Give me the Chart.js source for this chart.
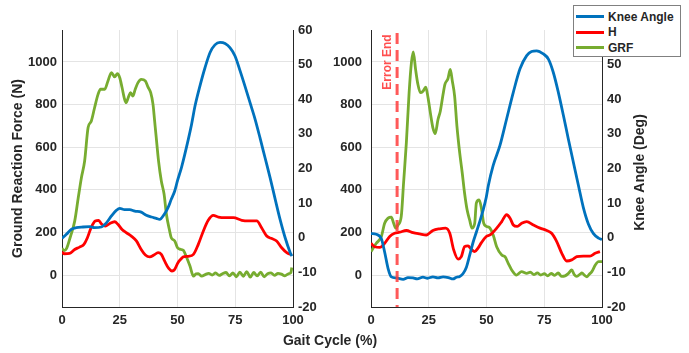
<!DOCTYPE html>
<html>
<head>
<meta charset="utf-8">
<script src="https://cdn.jsdelivr.net/npm/chart.js@4.4.1/dist/chart.umd.min.js"></script>
<style>
  body { margin: 0; background: #fff; font-family: Arial, "Liberation Sans", sans-serif; }
  #wrap { position: relative; width: 689px; height: 353px; overflow: hidden; }
  canvas { position: absolute; top: 0; }
  #leftChart { left: 0; }
  #rightChart { left: 320px; }
  #xTitle { position: absolute; left: 230px; width: 200px; top: 332px; line-height: 16px;
            text-align: center; font-weight: bold; font-size: 14px; color: #262626; }
  #legend { position: absolute; left: 573px; top: 5px; width: 108px; height: 52px; box-sizing: border-box;
            border: 1px solid #808080; background: #fff; padding-top: 3px; z-index: 5; }
  .item { height: 15.5px; display: flex; align-items: center; font-size: 12px; font-weight: bold;
          color: #262626; white-space: nowrap; }
  .swatch { display: inline-block; width: 28px; height: 3px; margin: 0 4px 0 2px; }
</style>
</head>
<body>
<div id="wrap">
  <canvas id="leftChart" width="345" height="353"></canvas>
  <canvas id="rightChart" width="369" height="353"></canvas>
  <div id="xTitle">Gait Cycle (%)</div>
  <div id="legend"></div>
</div>
<script>
// series
const seriesNames = ["Knee Angle", "H", "GRF"];
const seriesColors = ["#0072BD", "#FF0000", "#77AC30"];

// ticks
const xTicks = [0, 25, 50, 75, 100];
const grfTicks = [0, 200, 400, 600, 800, 1000];
const angleTicks = [-20, -10, 0, 10, 20, 30, 40, 50, 60];
const errorEnd = 11.3;

// left panel
const leftKneeX = [0, 1.9, 4, 6.2, 9.1, 12, 14.1, 17, 19.2, 21.4, 23.5, 25, 27.1, 29.3, 31.5, 34.3, 36.5, 38.7, 40.8, 42.3, 44.2, 45.9, 47.3, 48.8, 50, 51.8, 54.7, 56.1, 57.6, 59.7, 61.9, 64.1, 66.2, 68.4, 70.6, 72.7, 74.9, 77.1, 79.2, 81.4, 83.6, 85.7, 87.9, 90.1, 92.3, 94.4, 96.6, 98.8, 99.5];
const leftKnee = [-0.2, 1.0, 2.4, 2.9, 3.1, 3.2, 2.9, 3.1, 4.3, 6.3, 7.9, 8.5, 8.1, 8.1, 7.7, 7.4, 6.5, 6.0, 5.6, 5.3, 6.7, 8.7, 11.1, 13.5, 16.5, 20.5, 28.5, 32.8, 38.1, 43.8, 49.1, 53.5, 55.7, 56.4, 56.1, 54.9, 52.5, 48.2, 43.8, 39.0, 34.2, 28.9, 23.1, 17.3, 11.1, 5.3, 0, -4.3, -5.3];

const leftHX = [0, 1, 3.3, 5.5, 7.6, 9.5, 11, 12.7, 14.4, 15.9, 17, 18.8, 20.6, 22.8, 24.2, 26, 27.8, 30, 32.2, 34.3, 36.1, 38, 39.8, 41.6, 43, 44.4, 46.2, 47.6, 48.8, 50.2, 51.5, 52.5, 54.7, 56.9, 59, 61.2, 63.3, 65.5, 67.7, 70.6, 74.2, 77.8, 80.7, 84.3, 86.4, 88.6, 90.8, 92.9, 95.1, 97.3, 99.4];
const leftH = [108, 100, 102, 120, 131, 144, 175, 225, 254, 257, 241, 230, 241, 250, 238, 214, 199, 183, 160, 120, 94, 85, 94, 105, 97, 66, 31, 19, 27, 58, 75, 85, 88, 97, 144, 207, 257, 280, 272, 269, 269, 257, 254, 254, 222, 183, 171, 160, 128, 105, 94];

const leftGrfX = [0, 1, 2, 3.5, 5.5, 7, 8.4, 9.8, 11.3, 12.7, 14.1, 15.6, 16.7, 18.5, 19.9, 21.4, 22.8, 24, 25, 26, 27.1, 27.8, 28.9, 29.7, 30.7, 31.7, 32.9, 34.3, 36.1, 37.2, 38.4, 39.4, 40.1, 40.8, 41.8, 43, 44.2, 45.2, 46.6, 47.3, 48.8, 50, 51.5, 52.5, 54, 55.4, 56.9, 58, 59, 60.5, 62, 63.5, 65, 66.5, 68, 69.5, 71, 72.5, 74, 75.5, 77, 78.5, 80, 81.5, 83, 84.5, 86, 87.5, 89, 90.5, 92, 93.5, 95, 96.5, 98, 99, 99.5];
const leftGrf = [125, 115, 125, 175, 253, 360, 457, 535, 692, 723, 785, 848, 872, 872, 911, 950, 930, 945, 926, 880, 825, 809, 840, 856, 840, 872, 903, 918, 911, 883, 856, 801, 723, 645, 535, 441, 379, 285, 207, 175, 160, 128, 120, 116, 81, 42, -5, 5, 6, -5, 2, 8, 0, 10, -2, 6, 12, -4, 10, -8, 14, -6, 16, -10, 12, -4, 14, -8, 6, 10, -2, 8, 4, -4, 6, 10, 35];

// right panel
const rightKneeX = [0, 2.3, 4.5, 5.9, 7.4, 8.8, 11, 13.9, 16, 18.2, 20, 22.5, 24.5, 26.8, 29, 31.2, 33.5, 35.5, 37, 38.4, 39.8, 41.3, 42.7, 44.2, 45.6, 47, 48.5, 49.9, 50.8, 52.9, 55.8, 58.7, 61.6, 64.5, 67.4, 69.5, 71.7, 74.6, 76.8, 78.9, 81.1, 83.3, 85.4, 87.6, 89.8, 91.9, 94.1, 96.3, 98.5, 100];
const rightKnee = [1.2, 1.0, -0.3, -4.1, -8.9, -11.3, -11.6, -12.0, -11.5, -11.6, -11.9, -11.4, -11.7, -11.3, -11.6, -11.3, -11.5, -11.9, -11.4, -11.2, -10.4, -8.5, -5.1, -1.3, 1.6, 4.5, 7.9, 11.7, 15.1, 20.9, 26.6, 34.3, 42, 48.8, 52.6, 53.8, 54.0, 53.1, 51.6, 47.8, 42, 35.3, 28.6, 21.8, 15.1, 8.8, 4.0, 1.2, -0.1, -0.5];

const rightHX = [0, 1.6, 3.8, 5.9, 8.1, 10.2, 12.4, 15.3, 18.2, 21.1, 24, 26.8, 29.7, 32.3, 34.1, 35.8, 37.7, 39.1, 40.5, 42, 43.4, 44.9, 46.3, 47.8, 49.9, 51.5, 54.4, 56.6, 58.7, 60.2, 61.6, 63.3, 65.2, 67.4, 70.3, 73.2, 76.1, 78.2, 80.4, 82.6, 84.7, 86.9, 89.1, 91.9, 94.8, 97, 99.1];
const rightH = [149, 133, 130, 149, 181, 196, 201, 209, 199, 193, 188, 209, 217, 220, 196, 118, 75, 86, 133, 137, 121, 110, 126, 152, 181, 188, 220, 251, 283, 267, 235, 228, 243, 251, 235, 220, 209, 196, 157, 102, 66, 71, 86, 89, 89, 102, 110];

const rightGrfX = [0, 0.9, 2.3, 4.5, 5.9, 7.4, 8.8, 9.8, 10.7, 11.7, 13.1, 14.1, 15.3, 16.5, 17.5, 18.3, 19.3, 20.3, 21.4, 22.5, 23.7, 24.7, 25.7, 26.8, 27.8, 29, 30, 31.2, 32, 33.3, 34.3, 35.2, 36.2, 37.2, 38.4, 39.5, 40.5, 41.6, 42.7, 43.7, 44.9, 45.6, 46.8, 47.8, 48.8, 50, 51.5, 52.9, 54.4, 56.6, 58, 59.4, 60.9, 63, 65.2, 67.4, 69, 70.5, 72, 73.5, 75, 76.5, 78, 79.5, 81, 82.5, 84, 85.5, 86.9, 88, 89.1, 90.5, 91.3, 92.5, 93.5, 94.5, 95.6, 97.1, 98.5, 100];
const rightGrf = [110, 126, 149, 181, 243, 267, 272, 243, 220, 235, 275, 432, 620, 856, 997, 1047, 965, 895, 856, 863, 882, 832, 761, 691, 664, 730, 769, 848, 895, 921, 965, 911, 840, 699, 573, 479, 385, 306, 259, 220, 243, 338, 353, 314, 243, 228, 220, 188, 133, 94, 86, 55, 24, 0, 16, 8, 14, 2, 10, 0, 6, -4, 8, -2, 10, -6, -4, 8, 24, 2, -6, 4, 10, -2, -8, 4, 16, 47, 63, 63];

const textColor = "#262626";
const gridColor = "#e4e4e4";
const tickFont = { size: 13, weight: "bold" };
Chart.defaults.font.family = "Arial, 'Liberation Sans', sans-serif";
Chart.defaults.color = textColor;

function pts(xs, ys) {
  return xs.map((x, i) => ({ x: x, y: ys[i] }));
}

function lineSet(idx, xs, ys, axis) {
  return {
    label: seriesNames[idx],
    data: pts(xs, ys),
    yAxisID: axis,
    borderColor: seriesColors[idx],
    backgroundColor: seriesColors[idx],
    borderWidth: 2.8,
    pointRadius: 0,
    cubicInterpolationMode: "monotone",
    fill: false
  };
}

const plainLabel = v => String(v);

function makeScales(leftW, rightW, leftPad, withTitle) {
  return {
    x: {
      type: "linear", min: 0, max: 100,
      afterBuildTicks: s => { s.ticks = xTicks.map(v => ({ value: v })); },
      afterFit: s => { s.height = 46; },
      grid: { color: gridColor, drawTicks: false },
      border: { color: textColor, width: 1 },
      ticks: { padding: 6, font: tickFont, color: textColor, callback: plainLabel }
    },
    y: {
      position: "left", min: -150, max: 1150,
      afterBuildTicks: s => { s.ticks = grfTicks.map(v => ({ value: v })); },
      afterFit: s => { s.width = leftW; },
      grid: { color: gridColor, drawTicks: false },
      border: { color: textColor, width: 1 },
      ticks: { padding: leftPad, font: tickFont, color: textColor, callback: plainLabel },
      title: {
        display: withTitle, text: "Ground Reaction Force (N)", color: textColor,
        font: { size: 14, weight: "bold" }, padding: { top: 10, bottom: 0 }
      }
    },
    y2: {
      position: "right", min: -20, max: 60,
      afterBuildTicks: s => { s.ticks = angleTicks.map(v => ({ value: v })); },
      afterFit: s => { s.width = rightW; },
      grid: { drawOnChartArea: false, drawTicks: false },
      border: { color: textColor, width: 1 },
      ticks: { padding: 5, font: tickFont, color: textColor, callback: plainLabel }
    }
  };
}

const baseOptions = {
  responsive: false,
  animation: false,
  layout: { padding: { top: 30, left: 0, right: 0, bottom: 0 } },
  plugins: { legend: { display: false }, tooltip: { enabled: false } }
};

new Chart(document.getElementById("leftChart"), {
  type: "line",
  data: {
    datasets: [
      lineSet(0, leftKneeX, leftKnee, "y2"),
      lineSet(1, leftHX, leftH, "y"),
      lineSet(2, leftGrfX, leftGrf, "y")
    ]
  },
  options: Object.assign({}, baseOptions, { scales: makeScales(62, 52, 5, true) })
});

// error line + right axis title for the second panel
const rightExtras = {
  id: "rightExtras",
  afterDatasetsDraw(chart) {
    const { ctx, chartArea, scales } = chart;
    const px = scales.x.getPixelForValue(errorEnd);
    ctx.save();
    ctx.strokeStyle = "rgba(255, 60, 60, 0.85)";
    ctx.lineWidth = 3;
    ctx.setLineDash([11, 6]);
    ctx.beginPath();
    ctx.moveTo(px, chartArea.top + 3);
    ctx.lineTo(px, chartArea.bottom);
    ctx.stroke();
    ctx.setLineDash([]);
    ctx.fillStyle = "rgba(255, 60, 60, 0.9)";
    ctx.font = "bold 12px Arial, 'Liberation Sans', sans-serif";
    ctx.textAlign = "center";
    ctx.textBaseline = "middle";
    ctx.translate(px - 9, chartArea.top + 32);
    ctx.rotate(-Math.PI / 2);
    ctx.fillText("Error End", 0, 0);
    ctx.restore();

    ctx.save();
    ctx.fillStyle = textColor;
    ctx.font = "bold 14px Arial, 'Liberation Sans', sans-serif";
    ctx.textAlign = "center";
    ctx.textBaseline = "middle";
    ctx.translate(320, (chartArea.top + chartArea.bottom) / 2 + 4);
    ctx.rotate(-Math.PI / 2);
    ctx.fillText("Knee Angle (Deg)", 0, 0);
    ctx.restore();
  }
};

new Chart(document.getElementById("rightChart"), {
  type: "line",
  data: {
    datasets: [
      lineSet(0, rightKneeX, rightKnee, "y2"),
      lineSet(1, rightHX, rightH, "y"),
      lineSet(2, rightGrfX, rightGrf, "y")
    ]
  },
  options: Object.assign({}, baseOptions, { scales: makeScales(51, 87, 9, false) }),
  plugins: [rightExtras]
});

// legend
const legend = document.getElementById("legend");
seriesNames.forEach((name, i) => {
  const row = document.createElement("div");
  row.className = "item";
  const sw = document.createElement("span");
  sw.className = "swatch";
  sw.style.background = seriesColors[i];
  row.appendChild(sw);
  row.appendChild(document.createTextNode(name));
  legend.appendChild(row);
});
</script>
</body>
</html>
